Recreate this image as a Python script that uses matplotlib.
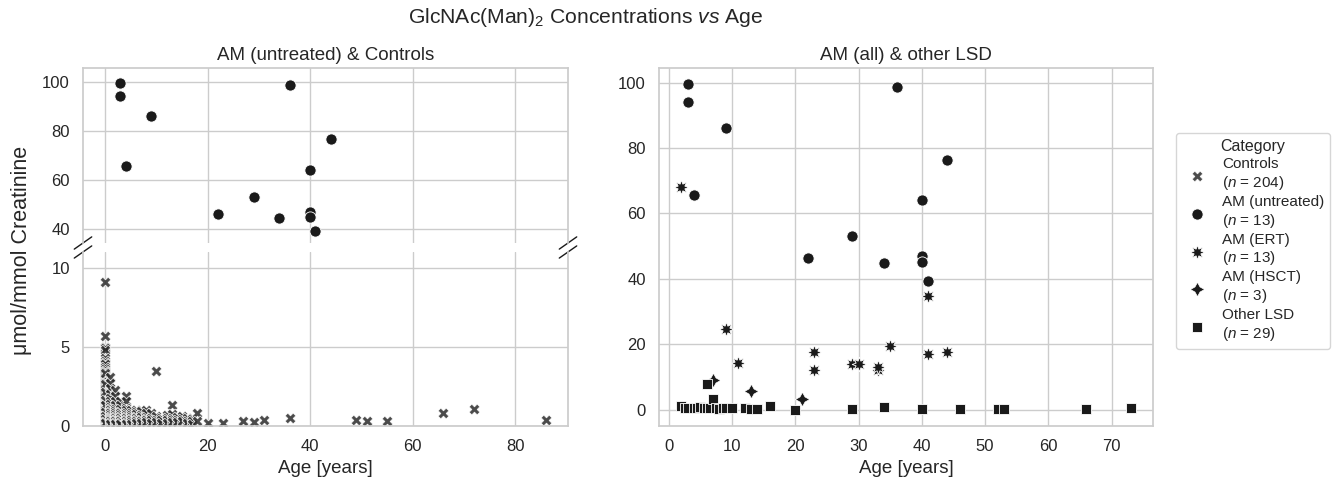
import matplotlib
matplotlib.use('Agg')
import matplotlib.pyplot as plt
import seaborn as sns

sns.set_theme(style='whitegrid')
plt.rcParams['font.family'] = ['Liberation Sans', 'DejaVu Sans']
plt.rcParams['mathtext.fontset'] = 'custom'
plt.rcParams['mathtext.rm'] = 'Liberation Sans'
plt.rcParams['mathtext.it'] = 'Liberation Sans:italic'

# AM untreated (age, value)
am_age = [3, 3, 9, 4, 22, 29, 34, 36, 40, 40, 40, 41, 44]
am_val = [99.5, 94.2, 86.0, 65.6, 46.3, 53.0, 44.8, 98.8, 64.2, 47.0, 45.2, 39.4, 76.5]

# AM under ERT
ert_age = [2, 9, 11, 23, 23, 29, 30, 33, 33, 35, 41, 41, 44]
ert_val = [68.2, 24.8, 14.2, 17.6, 12.2, 14.0, 14.0, 12.2, 13.0, 19.6, 34.8, 17.1, 17.5]

# AM after HSCT
hsct_age = [7, 13, 21]
hsct_val = [9.0, 5.6, 3.3]

# other lysosomal storage diseases
lsd_age = [2, 2.5, 3, 4, 4.5, 5, 5.5, 6, 6, 6.5, 7, 7.5, 8, 8.5, 9, 10, 12, 13, 14, 16,
           20, 29, 34, 40, 46, 52, 53, 66, 73]
lsd_val = [1.2, 0.4, 0.6, 0.6, 0.5, 0.8, 0.5, 7.9, 0.6, 0.5, 3.4, 0.4, 0.2, 0.4, 0.4, 0.4, 0.4, 0.2, 0.2, 1.0,
           0.0, 0.2, 0.8, 0.2, 0.2, 0.2, 0.2, 0.2, 0.4]

# controls, grouped by age
ctrl_groups = [0, 1, 2, 3, 4, 5, 6, 7, 8, 9, 10, 11, 12, 13, 14, 15, 16, 17, 18]
ctrl_group_vals = [
    [9.1, 5.7, 5.0, 4.9, 4.8, 4.3, 4.1, 4.0, 3.9, 3.7, 3.6, 3.5, 3.4, 3.3, 3.2, 3.1, 3.0, 2.9,
     2.8, 2.7, 2.6, 2.5, 2.4, 2.3, 2.2, 2.1, 2.0, 1.9, 1.8, 1.75, 1.7, 1.6, 1.55, 1.5, 1.45,
     1.4, 1.3, 1.25, 1.2, 1.15, 1.1, 1.05, 1.0, 0.95, 0.9, 0.85, 0.8, 0.75, 0.7, 0.65, 0.6,
     0.55, 0.5, 0.45, 0.4, 0.35, 0.3, 0.25, 0.2, 0.15, 0.1, 3.35, 2.65, 2.15, 1.65, 1.35,
     0.88, 0.62, 0.42, 0.28, 0.18],
    [3.1, 2.7, 2.4, 2.0, 1.8, 1.6, 1.4, 1.2, 1.1, 1.0, 0.9, 0.8, 0.7, 0.6, 0.5, 0.45, 0.4, 0.3, 0.2, 0.15],
    [2.25, 1.9, 1.6, 1.3, 1.1, 0.95, 0.85, 0.7, 0.6, 0.5, 0.4, 0.35, 0.3, 0.2, 0.1],
    [1.6, 1.3, 1.1, 0.9, 0.8, 0.7, 0.6, 0.5, 0.4, 0.3, 0.2, 0.1],
    [1.9, 1.6, 1.15, 1.0, 0.85, 0.7, 0.6, 0.5, 0.4, 0.3, 0.2, 0.1],
    [1.0, 0.8, 0.7, 0.55, 0.45, 0.35, 0.25, 0.15],
    [1.0, 0.9, 0.75, 0.6, 0.5, 0.4, 0.3, 0.2],
    [0.95, 0.7, 0.55, 0.4, 0.3, 0.2],
    [1.0, 0.8, 0.6, 0.45, 0.35, 0.25],
    [0.8, 0.5, 0.35, 0.2],
    [3.45, 0.65, 0.4, 0.25],
    [0.5, 0.35, 0.2],
    [0.7, 0.5, 0.35, 0.2],
    [1.35, 0.75, 0.5, 0.35, 0.25],
    [0.6, 0.4, 0.25],
    [0.65, 0.45, 0.3],
    [0.5, 0.3, 0.2],
    [0.45, 0.3, 0.15],
    [0.85, 0.3],
]
ctrl_old_age = [20, 23, 27, 29, 31, 36, 49, 51, 55, 66, 72, 86]
ctrl_old_val = [0.2, 0.2, 0.3, 0.25, 0.4, 0.5, 0.35, 0.3, 0.3, 0.8, 1.1, 0.4]

ctrl_age = []
ctrl_val = []
for a, vals in zip(ctrl_groups, ctrl_group_vals):
    ctrl_age += [a] * len(vals)
    ctrl_val += vals
ctrl_age += ctrl_old_age
ctrl_val += ctrl_old_val

labels = ['Controls\n($\\it{n}$ = 204)', 'AM (untreated)\n($\\it{n}$ = 13)',
          'AM (ERT)\n($\\it{n}$ = 13)', 'AM (HSCT)\n($\\it{n}$ = 3)', 'Other LSD\n($\\it{n}$ = 29)']

fig = plt.figure(figsize=(13.36, 4.79), dpi=100)
W, H = 1336, 479
ax_top = fig.add_axes([83 / W, 1 - 243 / H, 485 / W, 175 / H])
ax_bot = fig.add_axes([83 / W, 1 - 426 / H, 485 / W, 174 / H], sharex=ax_top)
ax_r = fig.add_axes([659 / W, 1 - 426 / H, 494 / W, 358 / H])

kw = dict(edgecolors='w', linewidths=0.6)
s_ctrl, s_am = 60, 65
ctrl_col = '#2b2b2b'

# left panel
ax_bot.scatter(ctrl_age, ctrl_val, marker='X', s=s_ctrl, color=ctrl_col, alpha=0.85, **kw)
ax_top.scatter(am_age, am_val, marker='o', s=s_am, color='k', **kw)
ax_top.set_ylim(34.5, 105.5)
ax_bot.set_ylim(0, 11)
ax_top.set_yticks([40, 60, 80, 100])
ax_bot.set_yticks([0, 5, 10])
ax_top.spines['bottom'].set_visible(False)
ax_bot.spines['top'].set_visible(False)
ax_top.tick_params(labelbottom=False)
ax_top.set_title('AM (untreated) & Controls', fontsize=13.5)
ax_bot.set_xlabel('Age [years]', fontsize=13.5)

# break marks
dx, dy = 0.018, 0.035
for x0 in (0, 1):
    ax_top.plot([x0 - dx, x0 + dx], [-dy, dy], transform=ax_top.transAxes, color='k',
                lw=1, clip_on=False)
    ax_bot.plot([x0 - dx, x0 + dx], [1 - dy, 1 + dy], transform=ax_bot.transAxes, color='k',
                lw=1, clip_on=False)

# right panel
h1 = ax_r.scatter([], [], marker='X', s=s_ctrl, color=ctrl_col, alpha=0.85, **kw)
h2 = ax_r.scatter(am_age, am_val, marker='o', s=s_am, color='k', **kw)
h3 = ax_r.scatter(ert_age, ert_val, marker=(8, 1, 0), s=110, color='k', **kw)
h4 = ax_r.scatter(hsct_age, hsct_val, marker=(4, 1, 0), s=110, color='k', **kw)
h5 = ax_r.scatter(lsd_age, lsd_val, marker='s', s=50, color='k', **kw)
ax_r.set_xticks(range(0, 80, 10))
ax_r.set_yticks(range(0, 120, 20))
ax_r.set_title('AM (all) & other LSD', fontsize=13.5)
ax_r.set_xlabel('Age [years]', fontsize=13.5)

for ax in (ax_top, ax_bot, ax_r):
    ax.tick_params(labelsize=12)

leg = fig.legend([h1, h2, h3, h4, h5], labels, title='Category', loc='center left',
                 bbox_to_anchor=(1176 / W, 1 - 241 / H), borderaxespad=0,
                 fontsize=11, title_fontsize=11.5, frameon=True, labelspacing=0.2,
                 handletextpad=0.6)

fig.text(22 / W, 1 - 250 / H, '\u03bcmol/mmol Creatinine', rotation=90, va='center',
         ha='center', fontsize=15.5)
fig.suptitle('GlcNAc(Man)$_2$ Concentrations $\\it{vs}$ Age', x=586 / W, y=1 - 6 / H,
             va='top', fontsize=15.2)

fig.savefig('out.png', dpi=100)
